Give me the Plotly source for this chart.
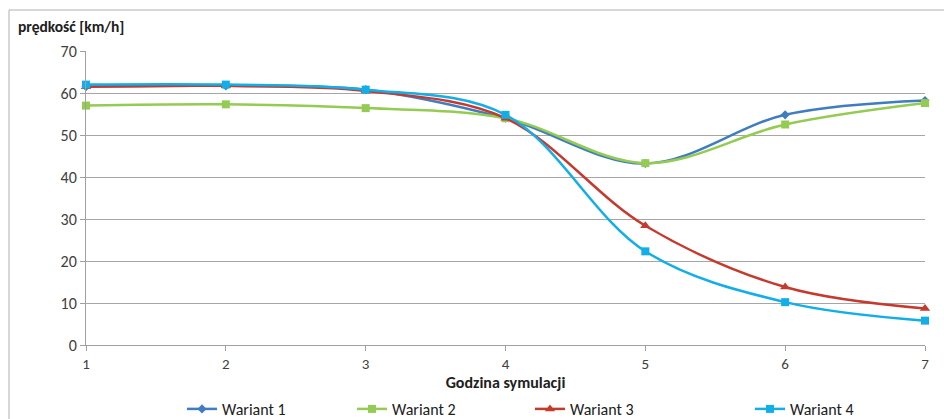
import plotly.graph_objects as go

# Simulation hour (x) and average speed in km/h for each variant
godziny = [1, 2, 3, 4, 5, 6, 7]
wariant_1 = [61.5, 61.7, 60.8, 54.0, 43.2, 54.8, 58.2]
wariant_2 = [57.0, 57.3, 56.4, 54.0, 43.3, 52.5, 57.6]
wariant_3 = [61.5, 61.7, 60.5, 54.0, 28.4, 13.8, 8.7]
wariant_4 = [62.0, 62.0, 60.8, 54.8, 22.3, 10.2, 5.8]

nazwy = ["Wariant 1", "Wariant 2", "Wariant 3", "Wariant 4"]
y_ticks = [0, 10, 20, 30, 40, 50, 60, 70]

W, H = 944, 419
L, R, T, B = 86, 925, 51, 345  # plot area in pixels


def px_x(p):
    return (p - L) / (R - L)


def px_y(p):
    return (B - p) / (B - T)


FONT = "Carlito, Calibri, Lato, sans-serif"
TXT = "#404040"

series = [
    (wariant_1, "#3F7CC0", "diamond", 7),
    (wariant_2, "#94CB52", "square", 8),
    (wariant_3, "#C63A2E", "triangle-up", 9),
    (wariant_4, "#12AEE8", "square", 8),
]

# legend text start positions (px)
legend_text_x = [222, 392, 570, 790]

fig = go.Figure()
for i, ((vals, col, sym, msz), name) in enumerate(zip(series, nazwy)):
    leg = "legend" if i == 0 else f"legend{i + 1}"
    fig.add_trace(go.Scatter(
        x=godziny, y=vals, name=name, mode="lines+markers",
        line=dict(color=col, width=2.5, shape="spline", smoothing=1.0),
        marker=dict(symbol=sym, size=msz, color=col),
        cliponaxis=False,
        legend=leg,
    ))

legend_common = dict(
    orientation="h", yanchor="middle", xanchor="left",
    xref="container", yref="container",
    font=dict(family=FONT, size=16, color="#202020"),
    bgcolor="rgba(0,0,0,0)", borderwidth=0,
)
layout_legends = {}
for i, tx in enumerate(legend_text_x):
    key = "legend" if i == 0 else f"legend{i + 1}"
    layout_legends[key] = dict(legend_common, x=(tx - 40) / W, y=1 - 409 / H)

fig.update_layout(
    width=W, height=H,
    margin=dict(l=L, r=W - R, t=T, b=H - B, autoexpand=False),
    paper_bgcolor="white", plot_bgcolor="white",
    showlegend=True,
    font=dict(family=FONT, color=TXT),
    xaxis=dict(
        range=[1, 7], tickvals=godziny, ticks="outside", ticklen=5,
        tickcolor="#A0A0A0", showline=True, linecolor="#A0A0A0",
        showgrid=False, zeroline=False,
        tickfont=dict(family=FONT, size=15, color=TXT),
        title=dict(text="<b>Godzina symulacji</b>", standoff=14,
                   font=dict(family=FONT, size=16, color="#202020")),
    ),
    yaxis=dict(
        range=[0, 70], tickvals=y_ticks, ticks="outside", ticklen=5,
        tickcolor="#A0A0A0", showline=True, linecolor="#A0A0A0",
        gridcolor="#A6A6A6", gridwidth=1, zeroline=False,
        tickfont=dict(family=FONT, size=16, color=TXT),
    ),
    annotations=[dict(
        text="<b>prędkość [km/h]</b>", xref="paper", yref="paper",
        x=px_x(16), y=px_y(27), xanchor="left", yanchor="middle",
        showarrow=False, font=dict(family=FONT, size=15.5, color="#202020"),
    )],
    shapes=[
        dict(type="line", xref="paper", yref="paper",
             x0=px_x(9), x1=px_x(W + 5), y0=px_y(10), y1=px_y(10),
             line=dict(color="#B0B0B0", width=1)),
        dict(type="line", xref="paper", yref="paper",
             x0=px_x(9), x1=px_x(9), y0=px_y(10), y1=px_y(H + 5),
             line=dict(color="#B0B0B0", width=1)),
    ],
    **layout_legends,
)

fig.write_html("out.html")
